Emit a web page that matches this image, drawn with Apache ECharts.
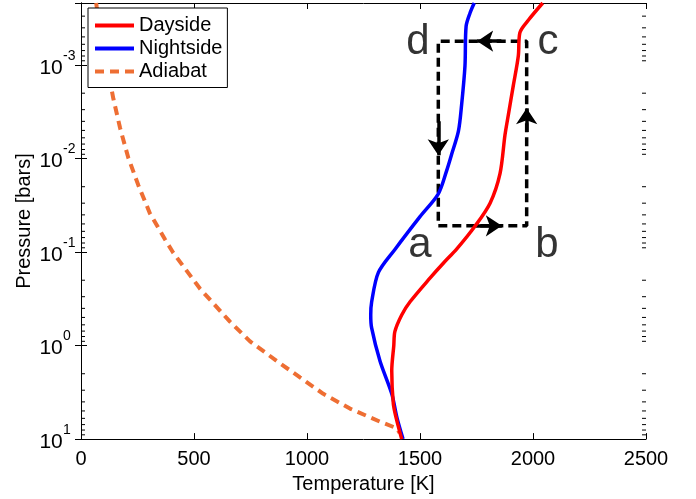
<!DOCTYPE html>
<html>
<head>
<meta charset="utf-8">
<script src="https://cdn.jsdelivr.net/npm/echarts@6/dist/echarts.min.js"></script>
<style>
html,body{margin:0;padding:0;background:#fff;}
#chart{width:696px;height:499px;}
</style>
</head>
<body>
<div id="chart"></div>
<script>
// ---- Data ----
const dayT = [1419, 1395, 1382, 1375, 1384, 1389, 1419, 1456, 1544, 1605, 1662, 1743, 1810, 1854, 1876, 1891, 1913, 1935, 1942, 1980, 2043];
const dayP = [10, 6, 4.2, 1.86, 1.0, 0.705, 0.47, 0.34, 0.19, 0.13, 0.093, 0.053, 0.030, 0.0145, 0.0056, 0.0034, 0.00165, 0.0008, 0.00045, 0.00033, 0.000217];

const nightT = [1425, 1398, 1375, 1323, 1286, 1282, 1286, 1316, 1389, 1500, 1581, 1618, 1640, 1670, 1684, 1699, 1704, 1721, 1740];
const nightP = [10, 5.9, 3.28, 1.46, 0.647, 0.47, 0.342, 0.165, 0.0937, 0.0418, 0.0238, 0.01346, 0.00901, 0.0051, 0.00268, 0.00102, 0.000385, 0.000279, 0.000217];

const adiabatT = [67, 69.5, 121, 143, 173, 209, 254, 305, 372, 408, 527, 659, 748, 866, 969, 1072, 1190, 1323, 1397, 1410];
const adiabatP = [0.000217, 0.000238, 0.00119, 0.00228, 0.00472, 0.00976, 0.01936, 0.0386, 0.0734, 0.1016, 0.247, 0.555, 0.90, 1.46, 2.19, 3.28, 4.72, 6.51, 7.66, 8.6];

// cycle a -> b -> c -> d -> a
const cycleT = [1581, 1972, 1972, 1581, 1581];
const cycleP = [0.0524, 0.0524, 0.000555, 0.000555, 0.0524];

// arrows: start -> end (tip)
const arrowT0 = [1745, 1972, 1860, 1581];
const arrowP0 = [0.0524, 0.0052, 0.000555, 0.004];
const arrowT1 = [1862, 1972, 1753, 1581];
const arrowP1 = [0.0524, 0.0029, 0.000555, 0.0092];

const pointNames = ['a', 'b', 'c', 'd'];
const pointT = [1500, 2062, 2066, 1491];
const pointP = [0.0843, 0.0843, 0.000573, 0.000573];

const xMin = 0, xMax = 2500, xStep = 500;
const yMin = 0.000217, yMax = 10;
const yMajor = [1e-3, 1e-2, 1e-1, 1, 10];
const yMajorExp = ['-3', '-2', '-1', '0', '1'];
const yMinor = [3e-4,4e-4,5e-4,6e-4,7e-4,8e-4,9e-4,
  2e-3,3e-3,4e-3,5e-3,6e-3,7e-3,8e-3,9e-3,
  2e-2,3e-2,4e-2,5e-2,6e-2,7e-2,8e-2,9e-2,
  0.2,0.3,0.4,0.5,0.6,0.7,0.8,0.9,
  2,3,4,5,6,7,8,9];

const seriesNames = ['Dayside', 'Nightside', 'Adiabat'];

// ---- Chart ----
const FONT = "'Liberation Sans', Arial, Helvetica, sans-serif";
const zip = (a, b) => a.map((v, i) => [v, b[i]]);
const SOLID_ICON = 'path://M0,0h39v4h-39z';
const DASH_ICON = 'path://M0,0h9v4h-9zM15,0h9v4h-9zM30,0h9v4h-9z';

const chart = echarts.init(document.getElementById('chart'), null, {renderer: 'canvas'});

const yAxisBase = {
  type: 'log', logBase: 10, min: yMin, max: yMax, inverse: true,
  axisLine: {show: true, lineStyle: {color: '#000', width: 1}},
  axisTick: {show: true, inside: true, length: 6, lineStyle: {color: '#000', width: 1}},
  axisLabel: {show: false},
  splitLine: {show: false},
  minorTick: {show: false}
};

const option = {
  animation: false,
  backgroundColor: '#fff',
  textStyle: {fontFamily: FONT},
  grid: {left: 81, right: 50, top: 3, bottom: 53, containLabel: false},
  legend: {
    data: [
      {name: seriesNames[0], icon: SOLID_ICON},
      {name: seriesNames[1], icon: SOLID_ICON},
      {name: seriesNames[2], icon: DASH_ICON}
    ],
    orient: 'vertical', left: 88, top: 8,
    itemWidth: 39, itemHeight: 20, itemGap: 3,
    padding: [7.5, 5, 6, 7],
    borderColor: '#000', borderWidth: 1, backgroundColor: '#fff',
    selectedMode: false,
    textStyle: {fontSize: 20, color: '#000', fontFamily: FONT}
  },
  xAxis: [{
    type: 'value', min: xMin, max: xMax, interval: xStep, position: 'bottom',
    axisLine: {show: true, lineStyle: {color: '#000', width: 1}},
    axisTick: {show: true, inside: true, length: 6, lineStyle: {color: '#000'}},
    axisLabel: {fontSize: 20, color: '#000', margin: 10, fontFamily: FONT, formatter: v => String(v)},
    splitLine: {show: false},
    name: 'Temperature [K]', nameLocation: 'middle', nameGap: 33,
    nameTextStyle: {fontSize: 20, color: '#000', fontFamily: FONT}
  }, {
    type: 'value', min: xMin, max: xMax, interval: xStep, position: 'top',
    axisLine: {show: true, lineStyle: {color: '#000', width: 1}},
    axisTick: {show: true, inside: true, length: 6, lineStyle: {color: '#000'}},
    axisLabel: {show: false},
    splitLine: {show: false}
  }],
  yAxis: [Object.assign({}, yAxisBase, {
    position: 'left',
    name: 'Pressure [bars]', nameLocation: 'middle', nameGap: 47, nameRotate: 90,
    nameTextStyle: {fontSize: 20, color: '#000', fontFamily: FONT}
  }), Object.assign({}, yAxisBase, {
    position: 'right'
  })],
  series: [
    {
      type: 'custom', name: 'minorTicks', silent: true, xAxisIndex: 0, yAxisIndex: 0,
      data: yMinor.map(v => [xMin, v]),
      encode: {x: 0, y: 1},
      clip: false,
      renderItem: function (params, api) {
        const v = api.value(1);
        const pL = api.coord([xMin, v]);
        const pR = api.coord([xMax, v]);
        return {
          type: 'group', children: [
            {type: 'line', shape: {x1: pL[0], y1: pL[1], x2: pL[0] + 4, y2: pL[1]}, style: {stroke: '#000', lineWidth: 1}},
            {type: 'line', shape: {x1: pR[0], y1: pR[1], x2: pR[0] - 4, y2: pR[1]}, style: {stroke: '#000', lineWidth: 1}}
          ]
        };
      },
      z: 1
    },
    {
      type: 'custom', name: 'yTickLabels', silent: true, xAxisIndex: 0, yAxisIndex: 0,
      data: yMajor.map((v, i) => [xMin, v, i]),
      encode: {x: 0, y: 1},
      clip: false,
      renderItem: function (params, api) {
        const v = api.value(1);
        const i = api.value(2);
        const p = api.coord([xMin, v]);
        const baseX = p[0] - 41.6;
        return {
          type: 'group', children: [
            {type: 'text', x: baseX, y: p[1] + 3,
             style: {text: '10', fill: '#000', fontSize: 21, fontFamily: FONT, align: 'left', verticalAlign: 'middle'}},
            {type: 'text', x: baseX + 23.6, y: p[1] - 9,
             style: {text: yMajorExp[i], fill: '#000', fontSize: 14, fontFamily: FONT, align: 'left', verticalAlign: 'middle'}}
          ]
        };
      },
      z: 1
    },
    {
      type: 'line', name: 'cycle', data: zip(cycleT, cycleP), showSymbol: false, symbol: 'none',
      lineStyle: {color: '#000', width: 3.5, type: [9, 5]}, silent: true, z: 2
    },
    {
      type: 'lines', name: 'arrows', coordinateSystem: 'cartesian2d', xAxisIndex: 0, yAxisIndex: 0,
      symbol: ['none', 'arrow'], symbolSize: 16,
      lineStyle: {color: '#000', width: 3.5, type: 'solid', opacity: 1, curveness: 0},
      data: arrowT0.map((t, i) => ({coords: [[t, arrowP0[i]], [arrowT1[i], arrowP1[i]]]})),
      silent: true, z: 2
    },
    {
      type: 'scatter', name: 'points', symbolSize: 0, silent: true,
      data: pointT.map((t, i) => ({name: pointNames[i], value: [t, pointP[i]]})),
      label: {show: true, position: 'inside', formatter: p => p.name, fontSize: 42, color: '#000', fontFamily: FONT},
      z: 2
    },
    {
      type: 'line', name: 'Adiabat', data: zip(adiabatT, adiabatP), showSymbol: false, symbol: 'none',
      smooth: false,
      lineStyle: {color: '#EE6E33', width: 4, type: [9, 6]}, itemStyle: {color: '#EE6E33'}, z: 3
    },
    {
      type: 'line', name: 'Nightside', data: zip(nightT, nightP), showSymbol: false, symbol: 'none',
      smooth: 0.3,
      lineStyle: {color: '#0000FF', width: 3.5}, itemStyle: {color: '#0000FF'}, z: 4
    },
    {
      type: 'line', name: 'Dayside', data: zip(dayT, dayP), showSymbol: false, symbol: 'none',
      smooth: 0.3,
      lineStyle: {color: '#FF0000', width: 3.5}, itemStyle: {color: '#FF0000'}, z: 5
    }
  ]
};
chart.setOption(option);
</script>
</body>
</html>
